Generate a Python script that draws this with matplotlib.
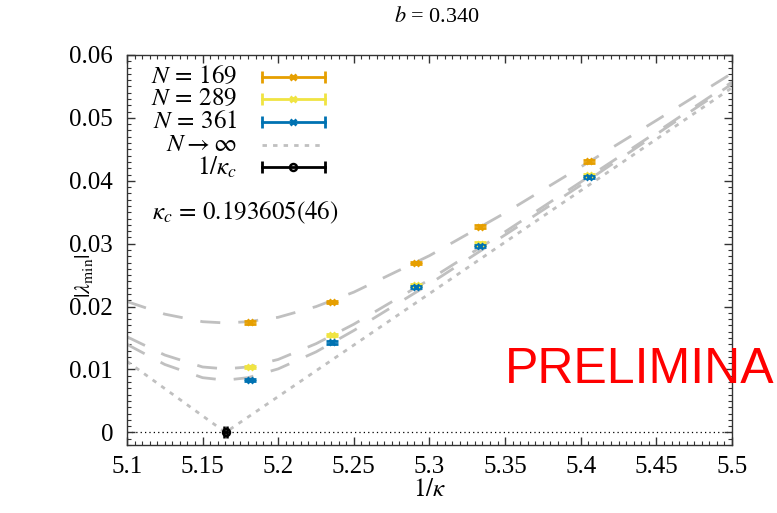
import matplotlib
matplotlib.use('Agg')
import matplotlib.pyplot as plt
from matplotlib.ticker import MultipleLocator

plt.rcParams['font.family'] = ['Liberation Serif', 'DejaVu Serif']
plt.rcParams['mathtext.fontset'] = 'stix'

# data points: 1/kappa and |lambda_min| for each lattice size
inv_kappa = [5.1813, 5.2356, 5.2910, 5.3333, 5.4054]
lam_169 = [0.0175, 0.0207, 0.0269, 0.0327, 0.0431]
lam_289 = [0.0104, 0.0155, 0.0234, 0.0300, 0.0409]
lam_361 = [0.0083, 0.0143, 0.0231, 0.0296, 0.0406]
lam_err = [0.0002, 0.0002, 0.0002, 0.0002, 0.0002]

# fit curves
fit_x = [5.10, 5.125, 5.15, 5.165, 5.18, 5.20, 5.225, 5.25, 5.30, 5.35, 5.40, 5.45, 5.50]
fit_169 = [0.0208, 0.0188, 0.0176, 0.0174, 0.0176, 0.0183, 0.0200, 0.0223, 0.0281, 0.0349, 0.0422, 0.0496, 0.0571]
fit_289 = [0.0152, 0.0123, 0.0104, 0.0101, 0.0104, 0.0116, 0.0141, 0.0172, 0.0243, 0.0319, 0.0398, 0.0477, 0.0557]
fit_361 = [0.0140, 0.0108, 0.0087, 0.0083, 0.0087, 0.0101, 0.0128, 0.0162, 0.0236, 0.0314, 0.0393, 0.0474, 0.0554]

# N -> infinity extrapolation
inf_x = [5.10, 5.16515, 5.50]
inf_y = [0.0113, 0.0, 0.0548]

# critical point
kc_x = [5.16515]
kc_y = [0.0]
kc_xerr = [0.00123]

colors = {'169': '#E69F00', '289': '#F0E442', '361': '#0072B2'}

fig = plt.figure(figsize=(7.77, 5.13), dpi=100)
ax = fig.add_axes([0.1634, 0.1326, 0.7787, 0.7602])

ax.axhline(0, color='black', lw=0.9, ls=(0, (1, 2.5)), zorder=1)

for fy in (fit_169, fit_289, fit_361):
    ax.plot(fit_x, fy, color='#c0c0c0', lw=2, dashes=(7.2, 6.5), zorder=2)
ax.plot(inf_x, inf_y, color='#c0c0c0', lw=2, dashes=(1.6, 2.2), zorder=2)

for key, lam in (('169', lam_169), ('289', lam_289), ('361', lam_361)):
    ax.errorbar(inv_kappa, lam, yerr=lam_err, fmt='x', color=colors[key], ms=5, mew=2,
                elinewidth=2, capsize=4, capthick=2, zorder=3)

ax.errorbar(kc_x, kc_y, xerr=kc_xerr, fmt='o', color='black', mfc='none', ms=5, mew=1.8,
            elinewidth=2, capsize=4, capthick=2, zorder=4)

ax.set_xlim(5.1, 5.5)
ax.set_ylim(-0.002, 0.06)
ax.xaxis.set_minor_locator(MultipleLocator(0.005))
ax.yaxis.set_minor_locator(MultipleLocator(0.001))
ax.set_xticks([5.1, 5.15, 5.2, 5.25, 5.3, 5.35, 5.4, 5.45, 5.5])
ax.set_xticklabels(['5.1', '5.15', '5.2', '5.25', '5.3', '5.35', '5.4', '5.45', '5.5'])
ax.set_yticks([0, 0.01, 0.02, 0.03, 0.04, 0.05, 0.06])
ax.set_yticklabels(['0', '0.01', '0.02', '0.03', '0.04', '0.05', '0.06'])
ax.tick_params(which='both', direction='in', top=True, right=True, labelsize=18, color='#333333')
ax.tick_params(which='major', length=6, width=1)
ax.tick_params(which='minor', length=3, width=0.8)
ax.tick_params(axis='x', pad=8)
ax.tick_params(axis='y', pad=10)
for s in ax.spines.values():
    s.set_color('#333333')
    s.set_linewidth(1)

ax.set_xlabel(r'$1/\kappa$', fontsize=18, labelpad=1)
ax.set_ylabel(r'$|\lambda_{\min}|$', fontsize=16)
ax.yaxis.set_label_coords(-0.052, 0.435)
fig.text(0.5625, 0.966, r'$b$ = 0.340', fontsize=16, ha='center', va='center')

# gnuplot-style key: labels right aligned, samples to the right
key_rows = [
    (r'$N\,=\,169$', colors['169'], 'x'),
    (r'$N\,=\,289$', colors['289'], 'x'),
    (r'$N\,=\,361$', colors['361'], 'x'),
    (r'$N \rightarrow \infty$', None, None),
    (r'$1/\kappa_c$', 'black', 'o'),
]
key_y = [0.944, 0.887, 0.828, 0.769, 0.713]
for (label, col, mk), yk in zip(key_rows, key_y):
    ax.text(0.182, yk, label, transform=ax.transAxes, ha='right', va='center', fontsize=18)
    if col is None:
        ax.plot([0.223, 0.327], [yk, yk], transform=ax.transAxes, color='#c0c0c0', lw=2,
                dashes=(1.6, 2.2), clip_on=False)
        continue
    ax.plot([0.223, 0.327], [yk, yk], transform=ax.transAxes, color=col, lw=2, clip_on=False)
    ax.plot([0.223, 0.327], [yk, yk], transform=ax.transAxes, color=col, ls='none',
            marker='|', ms=9, mew=2, clip_on=False)
    if mk == 'o':
        ax.plot([0.275], [yk], transform=ax.transAxes, color=col, marker='o', mfc='none',
                ms=5, mew=1.8, clip_on=False)
    else:
        ax.plot([0.275], [yk], transform=ax.transAxes, color=col, marker='x', ms=5, mew=2,
                clip_on=False)

ax.text(0.041, 0.595, r'$\kappa_c\,=\,0.193605(46)$', transform=ax.transAxes, ha='left',
        va='center', fontsize=18)

fig.text(505 / 777, 1 - 370 / 513, 'PRELIMINARY', color='red', fontsize=36,
         family='Liberation Sans', ha='left', va='center')

plt.savefig('out.png', dpi=100)
